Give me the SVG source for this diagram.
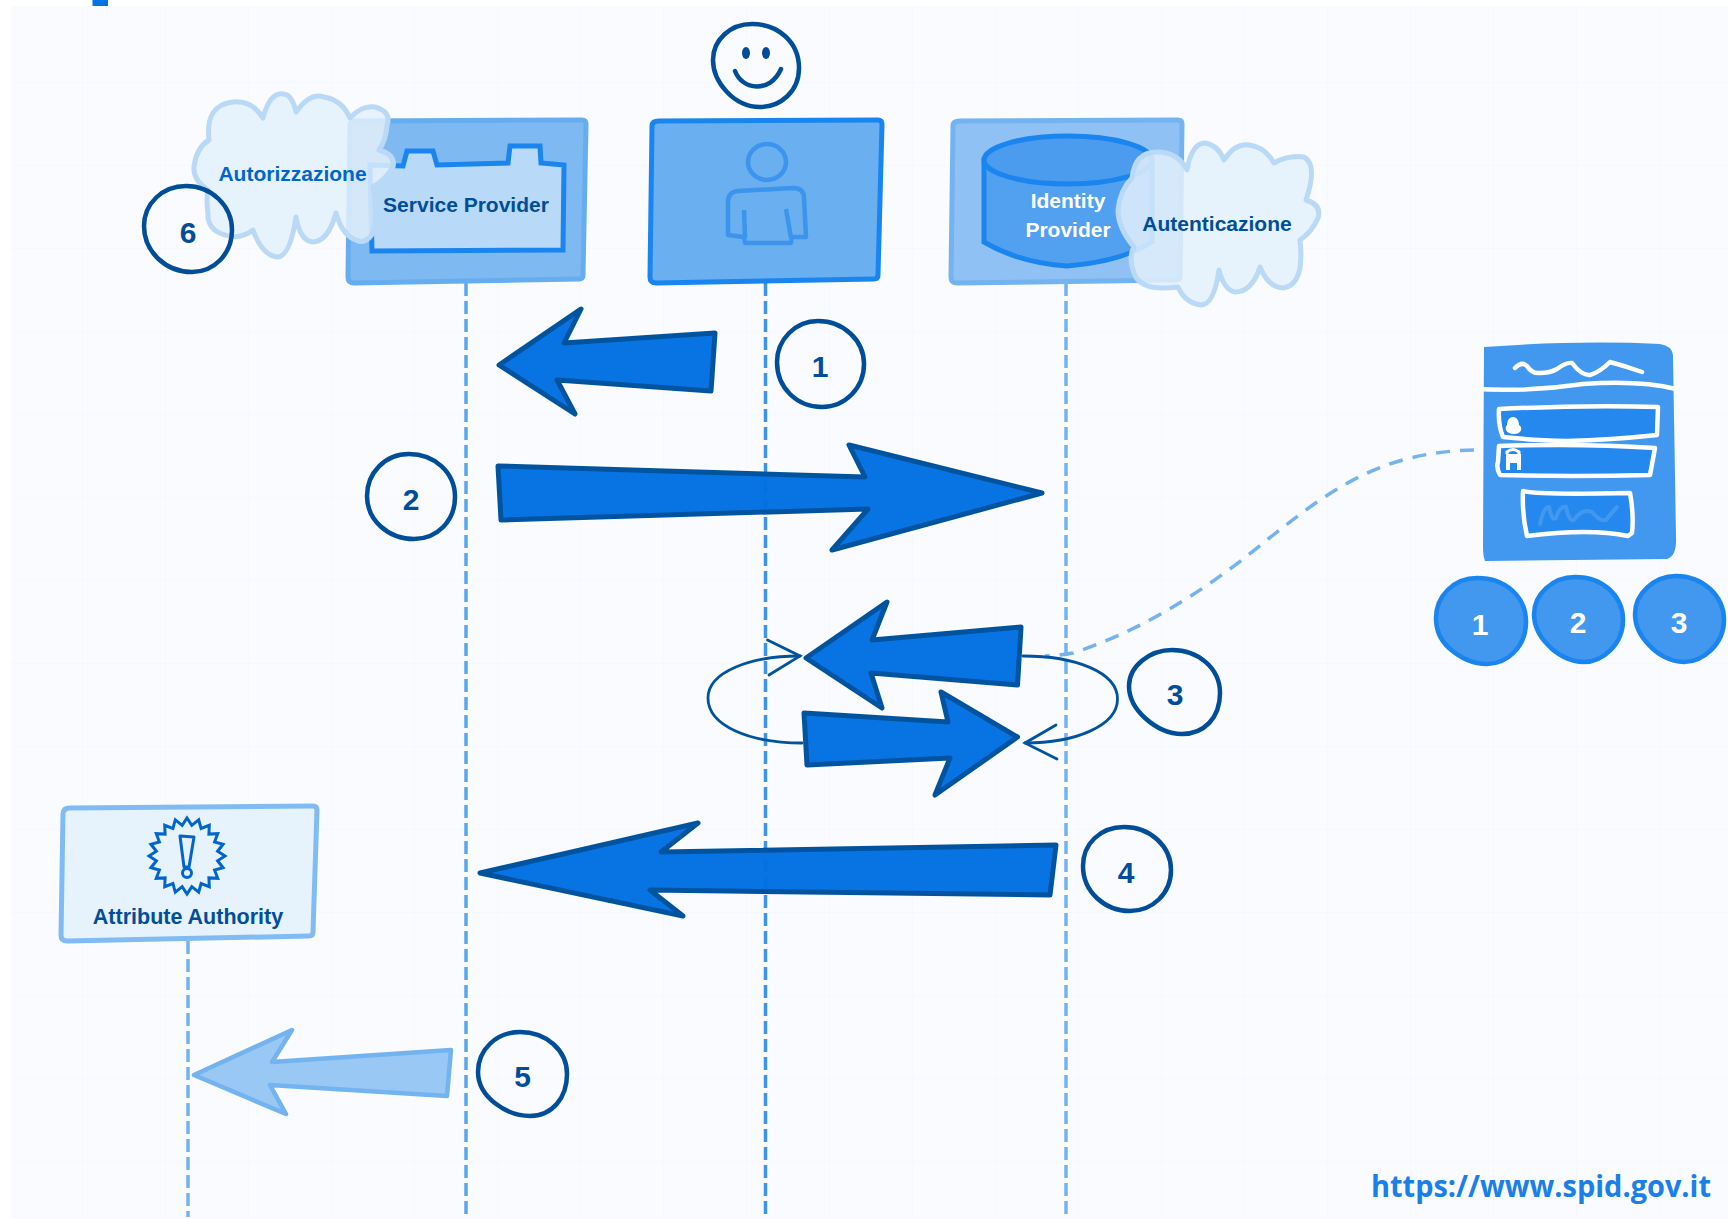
<svg xmlns="http://www.w3.org/2000/svg" width="1728" height="1219" viewBox="0 0 1728 1219">
<style>
text{font-family:"Liberation Sans",Arial,sans-serif;font-weight:700;text-anchor:middle}
.t21{font-size:21px}
.dk{fill:#004d99}
.wh{fill:#fff}
.num{font-size:30px}
.ring{fill:none;stroke:#004d99;stroke-width:4.5}
.life{fill:none;stroke-width:3.5;stroke-dasharray:13 5}
.cloud{fill:#e3f0fb;fill-opacity:.85;stroke:#b9d9f6;stroke-width:5;stroke-linejoin:round}
.arrow{fill:#0070e2;fill-opacity:.97;stroke:#00549f;stroke-width:5;stroke-linejoin:round}
.thin{fill:none;stroke:#00549f;stroke-width:2.8;stroke-linecap:round}
.fw{fill:#2488ee;stroke:#fff;stroke-width:4.5;stroke-linejoin:round}
.blob{fill:#4298ee;stroke:#1a85ee;stroke-width:4.5}
</style>
<defs>
<pattern id="grid" width="83" height="83" patternUnits="userSpaceOnUse"><path d="M83 0V83H0" fill="none" stroke="#f4f8fc" stroke-width="1.5"/></pattern>
</defs>
<rect width="1728" height="1219" fill="#fff"/>
<rect x="11" y="6" width="1717" height="1213" fill="#f9fbfe"/>
<rect x="11" y="6" width="1717" height="1213" fill="url(#grid)"/>
<rect x="92.500" y="0" width="15.500" height="6" fill="#0073e6"/>

<g id="connectors">
<path class="life" stroke="#5aa7ef" d="M466 283V1217"/>
<path class="life" stroke="#3d94ec" d="M765.500 283V1217"/>
<path class="life" stroke="#73b3f0" d="M1066 283V1217"/>
<path class="life" stroke="#73b3f0" d="M188 941V1217"/>
<path fill="none" stroke="#73b3f0" stroke-width="3.500" stroke-dasharray="14 10" d="M1474 450C1380 452 1330 490 1267 540C1216 582 1150 628 1073 653C1062 655 1052 656 1045 656"/>
<path class="arrow" d="M715 333L564 343L581 309L499 365L575 414L557 380L711 391Z"/>
<path class="arrow" d="M498 466L865 477L849 445L1042 493L832 550L868 509L501 520Z"/>
<path class="thin" d="M800 656C750 656 708 672 708 698C708 726 750 743 802 743"/>
<path class="thin" d="M767.500 640L800 656L769 675"/>
<path class="thin" d="M1023 656C1075 656 1117.500 672 1117.500 699C1117.500 726 1075 743 1025 743"/>
<path class="thin" d="M1056 725L1025 743L1057 759"/>
<path class="arrow" d="M1021 627L872 640L887 602L806 658L882 708L871 673L1017.500 685Z"/>
<path class="arrow" d="M804 713L948 722L941 692L1017.500 737L935 795L950 758L807 765Z"/>
<path class="arrow" d="M1056 845L661 852L698 823L480 873L683 916L650 890L1050 895Z"/>
<path fill="#99c8f5" stroke="#73b3f0" stroke-width="4.500" stroke-linejoin="round" d="M451 1050L272 1062L292 1030L194 1075L286 1114L270 1085L447 1096Z"/>
</g>

<g id="service-provider">
<path fill="#7fb9f2" stroke="#66adf0" stroke-width="5" d="M355 121L582 120Q586 120 586 124L583 275Q583 279 579 279L354 283Q348 283 348 277L350 126Q350 121 355 121Z"/>
<path fill="#b8d9f7" stroke="#1a85ee" stroke-width="5" stroke-linejoin="miter" d="M370 165L403 166L407 151L433 151L437 165L508 163L510 146L540 146L541 163L564 165L563 250L372 251Z"/>
<text class="t21" x="466" y="212" fill="#004d99">Service Provider</text>
</g>

<g id="autorizzazione">
<path class="cloud" d="M194 167Q196 148 209 140Q205 105 233 102Q252 100 263 118Q270 92 283 94Q292 94 296 112Q310 92 324 97Q342 100 350 118Q362 105 375 107Q392 112 387 125Q386 140 379 150Q396 155 393 167Q385 180 373 187Q378 215 373 233Q365 245 356 240Q342 235 336 213Q328 242 312 242Q300 240 296 217Q290 257 277 257Q262 255 253 230Q240 240 225 235Q207 230 208 213Q206 200 208 190Q193 180 194 167Z"/>
<text class="t21" x="292.500" y="181" fill="#0066cc">Autorizzazione</text>
</g>

<g id="step-6">
<path class="ring" d="M186 186C212 186 232 206 232 230C232 254 214 272 192 272C166 272 144 252 144 226C144 204 162 186 186 186Z"/>
<text class="num dk" x="188" y="243">6</text>
</g>

<g id="user">
<path fill="none" stroke="#004d99" stroke-width="4.500" d="M752 24C778 24 799 42 799 68C799 92 780 107 760 107C734 107 713 82 713 60C713 40 730 24 752 24Z"/>
<ellipse cx="746" cy="53" rx="4" ry="6" fill="#004d99"/>
<ellipse cx="766" cy="53" rx="4" ry="6" fill="#004d99"/>
<path fill="none" stroke="#004d99" stroke-width="4.500" stroke-linecap="round" d="M735 71C742 90 770 94 781 69"/>
<path fill="#6aaff0" stroke="#1a85ee" stroke-width="5" d="M659 121L878 120Q882 120 882 124L878 275Q878 279 874 279L656 283Q650 283 650 277L652 126Q652 121 659 121Z"/>
<g fill="none" stroke="#3d94ec" stroke-width="4.500" stroke-linejoin="round">
<ellipse cx="767" cy="162" rx="19" ry="18"/>
<path d="M728 235L728 202Q728 192 738 191L793 188Q804 188 804 198L806 237L792 237L791 243L745 243L744 237Z"/>
<path d="M744 210L745 238M786 209L791 238"/>
</g>
</g>

<g id="identity-provider">
<path fill="#8fc1f4" stroke="#73b3f0" stroke-width="5" d="M960 121L1178 120Q1182 120 1182 124L1180 276Q1180 280 1176 280L957 283Q951 283 951 277L953 126Q953 121 960 121Z"/>
<path fill="#52a0f0" stroke="#1a85ee" stroke-width="5" d="M984 160V242Q1020 263 1067 266Q1120 262 1152 242V160Z"/>
<ellipse cx="1068" cy="160" rx="84" ry="24" fill="#4b9bee" stroke="#1a85ee" stroke-width="5"/>
<text class="t21 wh" x="1068" y="208">Identity</text>
<text class="t21 wh" x="1068" y="237">Provider</text>
</g>

<g id="autenticazione">
<path class="cloud" d="M1118 210Q1120 190 1132 178Q1135 152 1157 152Q1178 152 1187 170Q1192 143 1205 143Q1218 145 1224 160Q1235 143 1249 145Q1265 147 1274 163Q1288 155 1304 157Q1318 165 1306 200Q1322 205 1318 218Q1312 232 1300 240Q1305 285 1283 288Q1268 287 1260 267Q1252 292 1235 292Q1224 290 1219 270Q1214 305 1201 305Q1185 303 1178 287Q1140 292 1134 273Q1128 258 1134 247Q1118 228 1118 210Z"/>
<text class="t21" x="1217" y="231" fill="#004d99">Autenticazione</text>
</g>

<g id="step-1">
<path class="ring" d="M818 321C843 321 864 340 864 364C864 388 845 407 822 407C797 407 777 388 777 362C777 340 795 321 818 321Z"/>
<text class="num dk" x="820" y="377">1</text>
</g>
<g id="step-2">
<path class="ring" d="M409 454C434 454 455 472 455 497C455 521 437 539 414 539C388 539 367 520 367 496C367 473 385 454 409 454Z"/>
<text class="num dk" x="411" y="510">2</text>
</g>
<g id="step-3">
<path class="ring" d="M1172 650C1198 650 1220 668 1220 693C1220 718 1204 734 1182 734C1168 734 1155 727 1145 718C1134 708 1129 698 1129 686C1129 666 1150 650 1172 650Z"/>
<text class="num dk" x="1175" y="705">3</text>
</g>
<g id="step-4">
<path class="ring" d="M1124 827C1150 827 1171 846 1171 870C1171 894 1152 911 1130 911C1105 911 1083 892 1083 866C1083 844 1100 827 1124 827Z"/>
<text class="num dk" x="1126" y="883">4</text>
</g>
<g id="step-5">
<path class="ring" d="M520 1032C546 1032 567 1050 567 1074C567 1098 552 1116 530 1116C508 1116 478 1098 478 1072C478 1050 496 1032 520 1032Z"/>
<text class="num dk" x="522.500" y="1087">5</text>
</g>

<g id="attribute-authority">
<path fill="#e6f2fc" stroke="#80bbf4" stroke-width="5" d="M70 808L313 806Q317 806 317 810L313 932Q313 936 309 936L67 941Q61 941 61 935L63 814Q63 808 70 808Z"/>
<path transform="translate(187 856)" fill="none" stroke="#0066cc" stroke-width="3" stroke-linejoin="miter" d="M0-38L4.800-30.600L11.700-36.100L14.100-27.600L22.300-30.700L21.900-21.900L30.700-22.300L27.600-14.100L36.100-11.700L30.600-4.800L38 0L30.600 4.800L36.100 11.700L27.600 14.100L30.700 22.300L21.900 21.900L22.300 30.700L14.100 27.600L11.700 36.100L4.800 30.600L0 38L-4.800 30.600L-11.700 36.100L-14.100 27.600L-22.300 30.700L-21.900 21.900L-30.700 22.300L-27.600 14.100L-36.100 11.700L-30.600 4.800L-38 0L-30.600-4.800L-36.100-11.700L-27.600-14.100L-30.700-22.300L-21.900-21.900L-22.300-30.700L-14.100-27.600L-11.700-36.100L-4.800-30.600Z"/>
<path fill="none" stroke="#0066cc" stroke-width="3" stroke-linejoin="round" d="M180 836L194 837L189 867L184 867Z"/>
<circle cx="187" cy="873" r="4.500" fill="none" stroke="#0066cc" stroke-width="3"/>
<text x="188" y="924" font-size="21.500" fill="#004d99">Attribute Authority</text>
</g>

<g id="login-form">
<path fill="#4298ee" d="M1484 347Q1580 340 1660 344Q1672 346 1673 355L1676 537Q1677 556 1667 559L1485 561Q1483 556 1483 547Z"/>
<path fill="none" stroke="#fff" stroke-width="4.500" stroke-linecap="round" d="M1475 389Q1530 392 1583 384Q1640 380 1676 389"/>
<path fill="none" stroke="#fff" stroke-width="4.500" stroke-linecap="round" stroke-linejoin="round" d="M1515 368Q1522 361 1527 366Q1532 374 1540 373Q1550 373 1557 369Q1566 362 1572 363Q1582 376 1590 375Q1600 372 1610 362Q1625 366 1642 372"/>
<path class="fw" d="M1499 409Q1580 405 1658 407L1657 435Q1610 440 1567 441Q1530 440 1503 437Q1498 425 1499 409Z"/>
<path class="fw" d="M1499 446Q1580 443 1655 448L1650 475Q1570 477 1500 475Q1496 468 1498 462Z"/>
<path fill="#fff" d="M1513 417C1518 417 1519 423 1519 425C1523 427 1522 434 1514 434C1506 434 1504 428 1507 425C1507 421 1509 417 1513 417Z"/>
<path fill="none" stroke="#fff" stroke-width="3" d="M1507 454V452Q1513 447 1519 452V454"/>
<rect x="1506" y="454" width="15" height="16" fill="#fff"/>
<rect x="1510" y="463" width="7" height="7" fill="#2488ee"/>
<path class="fw" d="M1523 491Q1535 495 1630 493Q1634 515 1632 533L1628 536Q1590 528 1527 536Q1522 515 1523 491Z"/>
<path fill="none" stroke="#4298ee" stroke-width="4" stroke-linecap="round" stroke-linejoin="round" d="M1540 524Q1544 506 1549 507Q1552 522 1556 518Q1560 505 1566 507Q1569 522 1574 520Q1582 508 1592 512Q1600 522 1606 520Q1612 512 1617 507"/>
</g>

<g id="option-1">
<path class="blob" d="M1477 578C1506 578 1526 597 1526 622C1526 648 1506 664 1487 664C1472 664 1458 656 1449 648C1440 640 1436 630 1436 618C1436 596 1454 578 1477 578Z"/>
<text class="num wh" x="1480" y="635">1</text>
</g>
<g id="option-2">
<path class="blob" d="M1575 577C1603 577 1623 596 1623 620C1623 645 1602 662 1584 662C1570 662 1556 654 1548 645C1539 636 1534 626 1534 614C1534 595 1552 577 1575 577Z"/>
<text class="num wh" x="1578" y="633">2</text>
</g>
<g id="option-3">
<path class="blob" d="M1676 576C1703 576 1724 596 1724 620C1724 645 1702 662 1684 662C1670 662 1657 654 1649 645C1640 636 1635 626 1635 614C1635 594 1654 576 1676 576Z"/>
<text class="num wh" x="1679" y="633">3</text>
</g>

<text style="font-family:'Open Sans','Noto Sans',sans-serif;text-anchor:start" x="1371" y="1197" font-size="30" fill="#1a7fe8" textLength="340" lengthAdjust="spacingAndGlyphs">https://www.spid.gov.it</text>
</svg>
